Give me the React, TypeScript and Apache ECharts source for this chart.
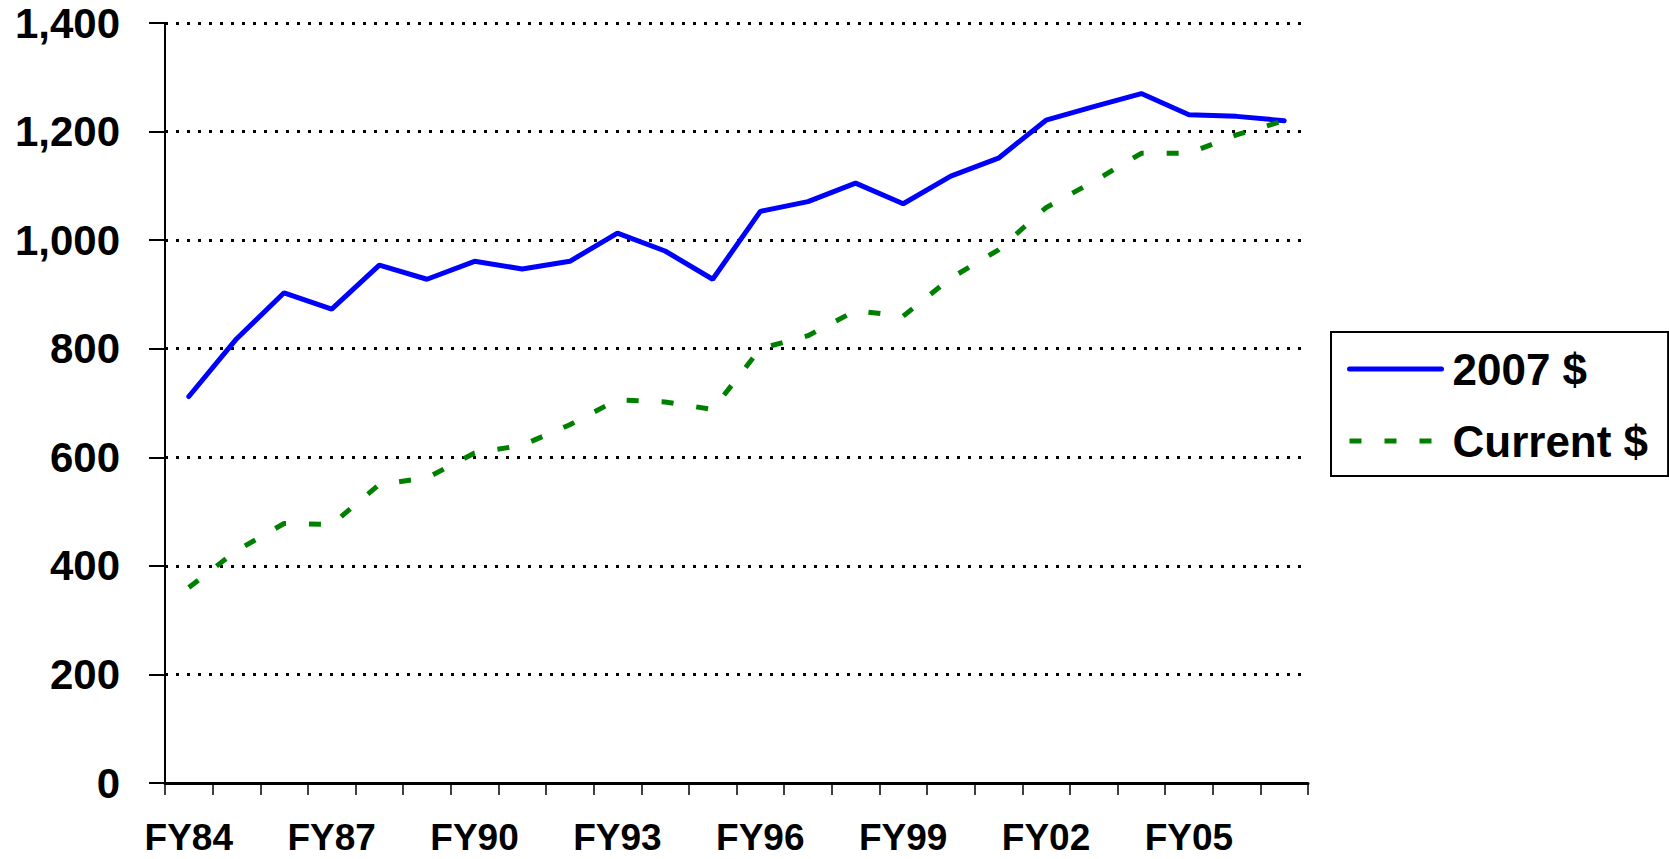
import React, { useEffect, useRef } from "react";
import * as echarts from "echarts";

const categories = [
  "FY84", "FY85", "FY86", "FY87", "FY88", "FY89", "FY90", "FY91",
  "FY92", "FY93", "FY94", "FY95", "FY96", "FY97", "FY98", "FY99",
  "FY00", "FY01", "FY02", "FY03", "FY04", "FY05", "FY06", "FY07",
];

const constant2007 = [
  712, 818, 903, 873, 954, 928, 961, 947,
  961, 1013, 980, 928, 1053, 1071, 1105, 1067,
  1118, 1151, 1221, 1246, 1270, 1231, 1228, 1220,
];

const currentDollars = [
  360, 428, 478, 476, 550, 562, 608, 622,
  660, 706, 702, 688, 800, 824, 870, 860,
  930, 982, 1060, 1108, 1160, 1160, 1194, 1220,
];

const seriesNames = ["2007 $", "Current $"];
const yTicks = { min: 0, max: 1400, interval: 200 };

const FONT = 'Arial, "Liberation Sans", Helvetica, sans-serif';
const GREEN_DASH = [12, 23];

export default function App() {
  const ref = useRef<HTMLDivElement>(null);

  useEffect(() => {
    if (!ref.current) return;
    const chart = echarts.init(ref.current, undefined, { renderer: "svg" });
    chart.setOption({
      animation: false,
      backgroundColor: "#ffffff",
      grid: { left: 165, right: 361, top: 23, bottom: 76, containLabel: false },
      legend: {
        show: true,
        orient: "vertical",
        left: 1331,
        top: 332,
        borderColor: "#000000",
        borderWidth: 2,
        padding: [15, 20, 13, 16],
        itemWidth: 92,
        itemHeight: 14,
        itemGap: 28,
        itemStyle: { opacity: 0 },
        data: [
          {
            name: seriesNames[0],
            itemStyle: { opacity: 0 },
            lineStyle: { color: "#0000FF", width: 5, cap: "round" },
          },
          {
            name: seriesNames[1],
            itemStyle: { opacity: 0 },
            lineStyle: { color: "#008000", width: 5, type: GREEN_DASH },
          },
        ],
        textStyle: {
          fontFamily: FONT,
          fontSize: 44,
          fontWeight: "bold",
          color: "#000000",
          padding: [0, 0, 0, 6],
        },
      },
      xAxis: {
        type: "category",
        data: categories,
        boundaryGap: true,
        axisLine: { show: true, lineStyle: { color: "#000000", width: 3 } },
        axisTick: { show: true, interval: 0, length: 12, lineStyle: { color: "#000000", width: 1.5 } },
        axisLabel: {
          interval: 2,
          margin: 36,
          fontFamily: FONT,
          fontSize: 37,
          fontWeight: "bold",
          color: "#000000",
        },
        splitLine: { show: false },
      },
      yAxis: {
        type: "value",
        min: yTicks.min,
        max: yTicks.max,
        interval: yTicks.interval,
        axisLine: { show: true, lineStyle: { color: "#000000", width: 2 } },
        axisTick: { show: true, length: 16, lineStyle: { color: "#000000", width: 2 } },
        axisLabel: {
          margin: 45,
          fontFamily: FONT,
          fontSize: 42,
          fontWeight: "bold",
          color: "#000000",
          formatter: (v: number) => v.toLocaleString("en-US"),
        },
        splitLine: {
          show: true,
          lineStyle: { color: "#000000", width: 3, type: [3, 8] },
        },
      },
      series: [
        {
          name: seriesNames[0],
          type: "line",
          data: constant2007,
          symbol: "none",
          color: "#0000FF",
          lineStyle: { color: "#0000FF", width: 5, cap: "round" },
        },
        {
          name: seriesNames[1],
          type: "line",
          data: currentDollars,
          symbol: "none",
          color: "#008000",
          lineStyle: { color: "#008000", width: 5, type: GREEN_DASH },
        },
      ],
    });
    return () => chart.dispose();
  }, []);

  return (
    <div
      ref={ref}
      style={{ position: "fixed", left: 0, top: 0, width: 1669, height: 859, background: "#fff" }}
    />
  );
}
